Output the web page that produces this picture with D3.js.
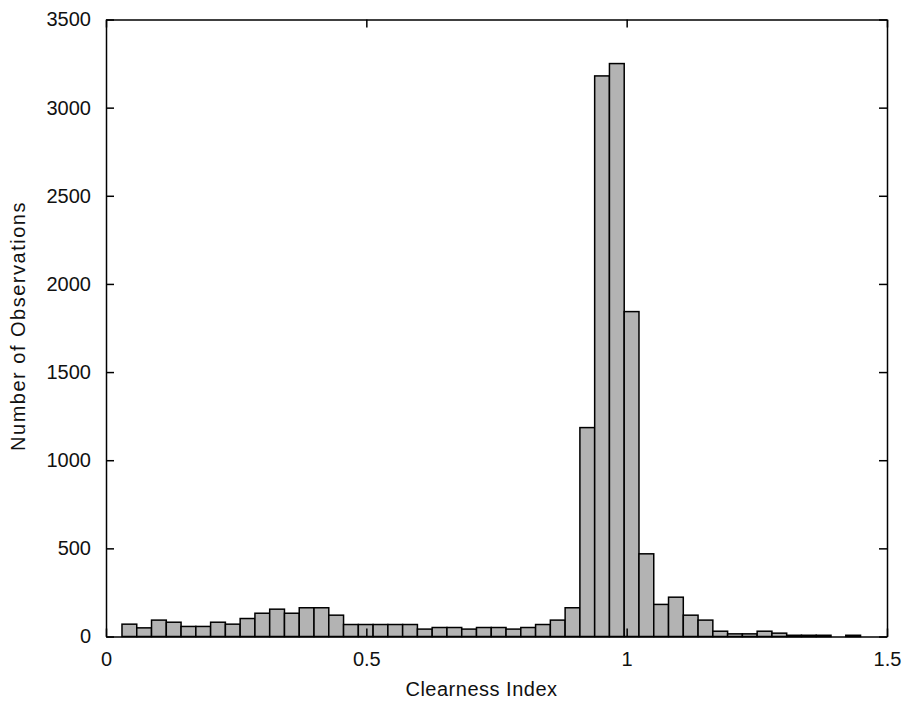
<!DOCTYPE html>
<html>
<head>
<meta charset="utf-8">
<script src="https://cdn.jsdelivr.net/npm/d3@7"></script>
<style>
  html, body { margin: 0; padding: 0; background: #fff; }
  svg text { font-family: Arial, "Liberation Sans", Helvetica, sans-serif; fill: #111; }
</style>
</head>
<body>
<svg id="chart" width="906" height="703"></svg>
<script>
// Histogram of clearness index: 50 equal-width bins
const binStart = 0.0307;
const binWidth = 0.02837;
const counts = [
  70, 49, 93, 81, 57, 57, 81, 70, 102, 132,
  155, 132, 163, 163, 121, 68, 68, 68, 68, 68,
  42, 51, 51, 42, 51, 51, 42, 51, 68, 93,
  163, 1185, 3180, 3250, 1843, 469, 182, 223, 121, 93,
  30, 15, 15, 30, 19, 7, 7, 7, 0, 7
];
const xTicks = [0, 0.5, 1, 1.5];
const xTickLabels = ["0", "0.5", "1", "1.5"];
const yTicks = [0, 500, 1000, 1500, 2000, 2500, 3000, 3500];
const xLabel = "Clearness Index";
const yLabel = "Number of Observations";

const bins = counts.map((c, i) => ({
  x0: binStart + i * binWidth,
  x1: binStart + (i + 1) * binWidth,
  count: c
}));

const svg = d3.select("#chart");
const plotLeft = 106, plotRight = 887, plotTop = 19.5, plotBottom = 636.5;

const x = d3.scaleLinear().domain([0, 1.5]).range([plotLeft, plotRight]);
const y = d3.scaleLinear().domain([0, 3500]).range([plotBottom, plotTop]);

// bars
svg.append("g")
  .selectAll("rect")
  .data(bins)
  .join("rect")
  .attr("x", d => x(d.x0))
  .attr("y", d => y(d.count))
  .attr("width", d => x(d.x1) - x(d.x0))
  .attr("height", d => y(0) - y(d.count))
  .attr("fill", "#b3b3b3")
  .attr("stroke", "#000")
  .attr("stroke-width", 1.5);

// axes with inward ticks, mirrored on top and right
const tickLen = 8;
const fmtX = (d, i) => xTickLabels[i];

const gB = svg.append("g").attr("transform", `translate(0,${plotBottom})`)
  .call(d3.axisBottom(x).tickValues(xTicks).tickFormat(fmtX).tickSizeInner(-tickLen).tickSizeOuter(0).tickPadding(15));
const gT = svg.append("g").attr("transform", `translate(0,${plotTop})`)
  .call(d3.axisTop(x).tickValues(xTicks).tickFormat("").tickSizeInner(-tickLen).tickSizeOuter(0));
const gL = svg.append("g").attr("transform", `translate(${plotLeft},0)`)
  .call(d3.axisLeft(y).tickValues(yTicks).tickFormat(d3.format("d")).tickSizeInner(-tickLen).tickSizeOuter(0).tickPadding(15));
const gR = svg.append("g").attr("transform", `translate(${plotRight},0)`)
  .call(d3.axisRight(y).tickValues(yTicks).tickFormat("").tickSizeInner(-tickLen).tickSizeOuter(0));

[gB, gT, gL, gR].forEach(g => {
  g.select(".domain").attr("stroke", "#000").attr("stroke-width", 1.5);
  g.selectAll(".tick line").attr("stroke", "#000").attr("stroke-width", 1.5);
  g.selectAll(".tick text").attr("font-size", 20).attr("font-family", "Arial, 'Liberation Sans', sans-serif").attr("fill", "#111");
});

// axis titles
svg.append("text")
  .attr("x", (plotLeft + plotRight) / 2 - 15)
  .attr("y", 696)
  .attr("text-anchor", "middle")
  .attr("font-size", 20)
  .attr("letter-spacing", 0.5)
  .text(xLabel);

svg.append("text")
  .attr("transform", `translate(25,${(plotTop + plotBottom) / 2 - 2}) rotate(-90)`)
  .attr("text-anchor", "middle")
  .attr("font-size", 20)
  .attr("letter-spacing", 1.5)
  .text(yLabel);
</script>
</body>
</html>
